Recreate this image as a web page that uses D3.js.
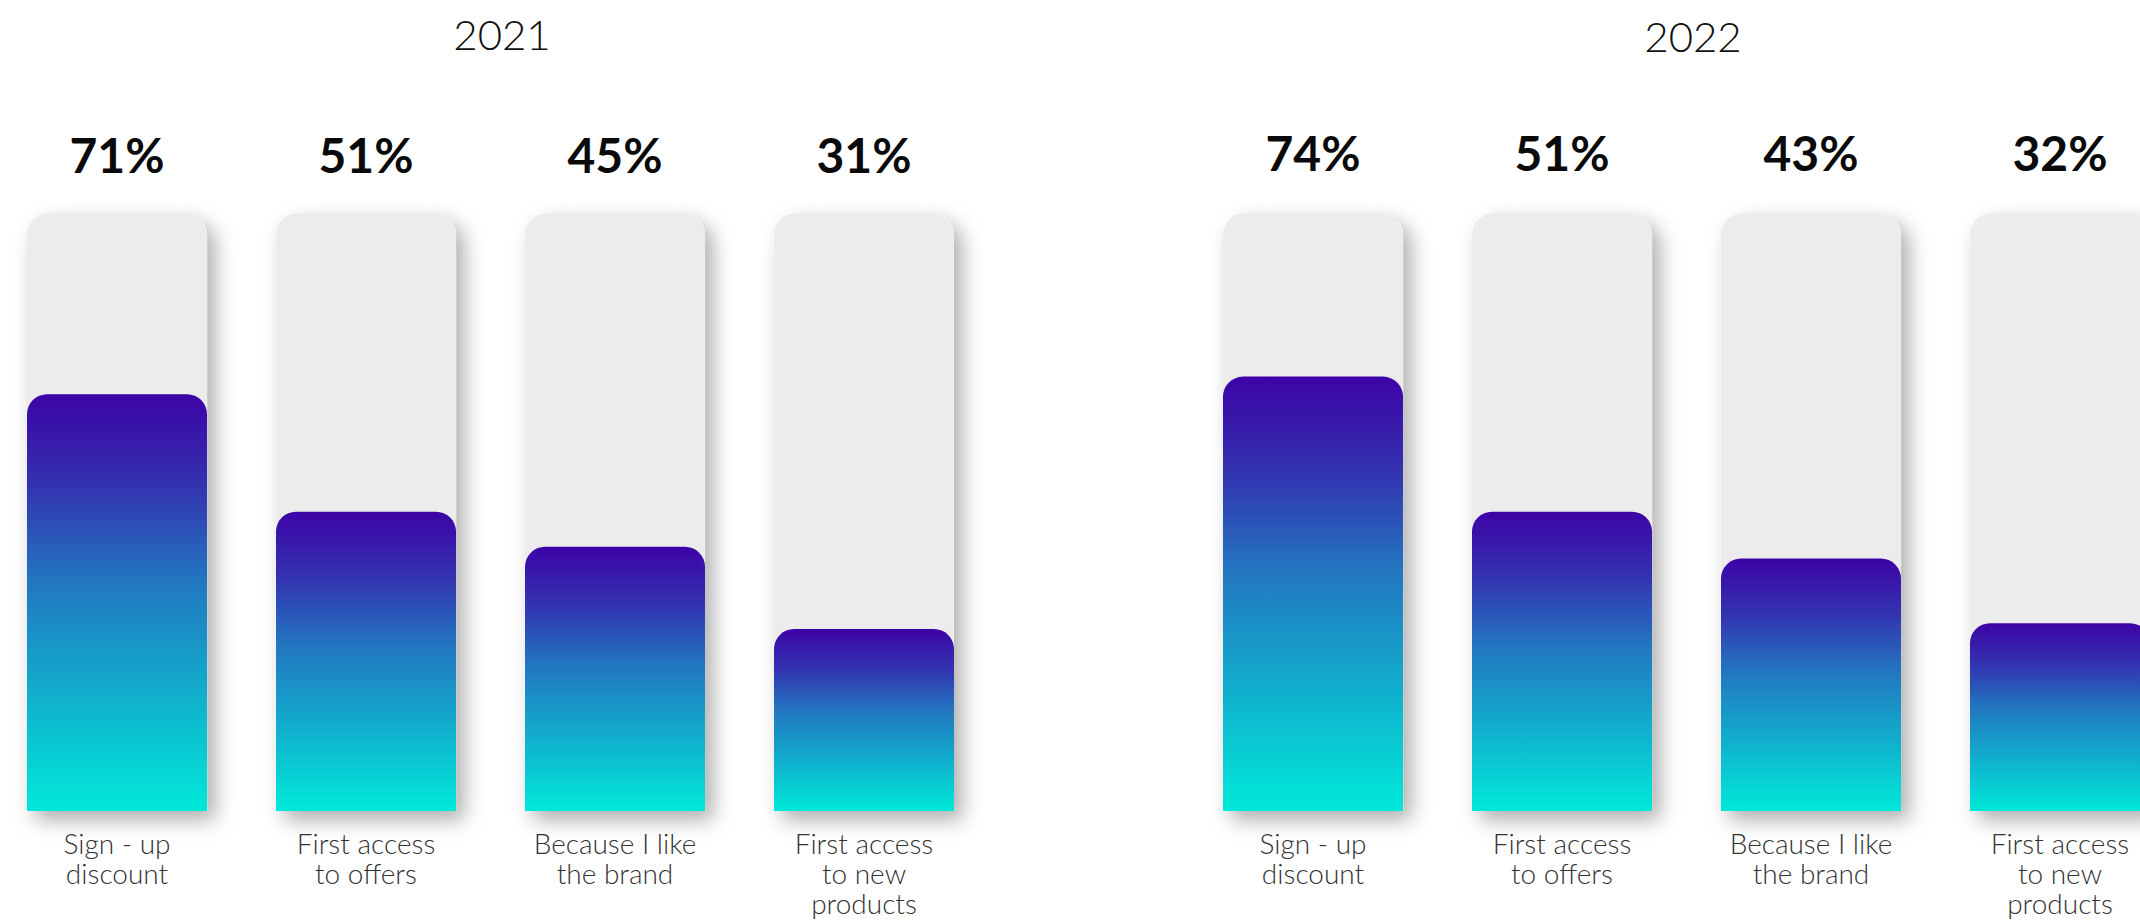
<!DOCTYPE html>
<html>
<head>
<meta charset="utf-8">
<script src="https://cdn.jsdelivr.net/npm/d3@7/dist/d3.min.js"></script>
<style>
  html, body { margin: 0; padding: 0; background: #ffffff; overflow: hidden; }
  svg { display: block; }
</style>
</head>
<body>
<svg id="chart" width="2140" height="921"></svg>
<script>
// Reasons for signing up, by year (share of respondents, %)
const years = ["2021", "2022"];
const categories = [
  "Sign - up discount",
  "First access to offers",
  "Because I like the brand",
  "First access to new products"
];
const categoryLines = [
  ["Sign - up", "discount"],
  ["First access", "to offers"],
  ["Because I like", "the brand"],
  ["First access", "to new", "products"]
];
const values2021 = [71, 51, 45, 31];
const values2022 = [74, 51, 43, 32];
const seriesByYear = [values2021, values2022];

// Layout
const W = 2140, H = 921;
const groupStarts = [27, 1223];      // left edge of each year's panel
const groupWidth = 927;
const titleX = [502, 1693];
const trackTop = 213, baseY = 811;

const svg = d3.select("#chart");
const defs = svg.append("defs");

const grad = defs.append("linearGradient")
  .attr("id", "fillGrad")
  .attr("x1", 0).attr("y1", 0).attr("x2", 0).attr("y2", 1);
[
  [0, "#3d03a6"], [0.22, "#3333b0"], [0.45, "#2277c0"],
  [0.7, "#12aacc"], [1, "#00e9d9"]
].forEach(([o, c]) => grad.append("stop").attr("offset", o).attr("stop-color", c));

const shadow = defs.append("filter")
  .attr("id", "trackShadow")
  .attr("x", "-20%").attr("y", "-10%").attr("width", "160%").attr("height", "130%");
shadow.append("feDropShadow")
  .attr("dx", 8).attr("dy", 9).attr("stdDeviation", 10)
  .attr("flood-color", "#000").attr("flood-opacity", 0.32);

const y = d3.scaleLinear().domain([0, 100]).range([baseY, baseY - 587]);

// Path of a rectangle with rounded top corners only
function topRounded(x, y0, w, h, r) {
  const p = d3.path();
  p.moveTo(x, y0 + h);
  p.lineTo(x, y0 + r);
  p.arcTo(x, y0, x + r, y0, r);
  p.lineTo(x + w - r, y0);
  p.arcTo(x + w, y0, x + w, y0 + r, r);
  p.lineTo(x + w, y0 + h);
  p.closePath();
  return p.toString();
}

years.forEach((year, gi) => {
  const values = seriesByYear[gi];
  const data = categories.map((c, i) => ({ cat: c, lines: categoryLines[i], value: values[i] }));

  const x = d3.scaleBand()
    .domain(categories)
    .range([groupStarts[gi], groupStarts[gi] + groupWidth])
    .paddingInner(0.277)
    .paddingOuter(0);
  const bw = x.bandwidth();

  const g = svg.append("g").attr("class", "year-" + year);

  g.append("text")
    .attr("x", titleX[gi])
    .attr("y", gi === 0 ? 50 : 52)
    .attr("text-anchor", "middle")
    .attr("font-family", "Lato, 'Open Sans', sans-serif")
    .attr("font-weight", 300)
    .attr("font-size", 42)
    .attr("fill", "#111")
    .text(year);

  const bars = g.selectAll("g.bar").data(data).join("g").attr("class", "bar");

  // grey track
  bars.append("path")
    .attr("d", d => topRounded(x(d.cat), trackTop, bw, baseY - trackTop, 22))
    .attr("fill", "#ececec")
    .attr("filter", "url(#trackShadow)");

  // gradient fill
  bars.append("path")
    .attr("d", d => topRounded(x(d.cat), y(d.value), bw, baseY - y(d.value), 20))
    .attr("fill", "url(#fillGrad)");

  // value label
  bars.append("text")
    .attr("x", d => x(d.cat) + bw / 2)
    .attr("y", gi === 0 ? 173 : 171)
    .attr("text-anchor", "middle")
    .attr("font-family", "Lato, 'Open Sans', sans-serif")
    .attr("font-weight", 700)
    .attr("font-size", 48)
    .attr("fill", "#0a0a0a")
    .text(d => d.value + "%");

  // category label
  const lbl = bars.append("text")
    .attr("text-anchor", "middle")
    .attr("font-family", "Lato, 'Open Sans', sans-serif")
    .attr("font-weight", 300)
    .attr("font-size", 28)
    .attr("fill", "#333");
  lbl.selectAll("tspan")
    .data(d => d.lines.map(t => ({ t, cx: x(d.cat) + bw / 2 })))
    .join("tspan")
    .attr("x", d => d.cx)
    .attr("y", (d, i) => 854 + i * 30)
    .text(d => d.t);
});
</script>
</body>
</html>
